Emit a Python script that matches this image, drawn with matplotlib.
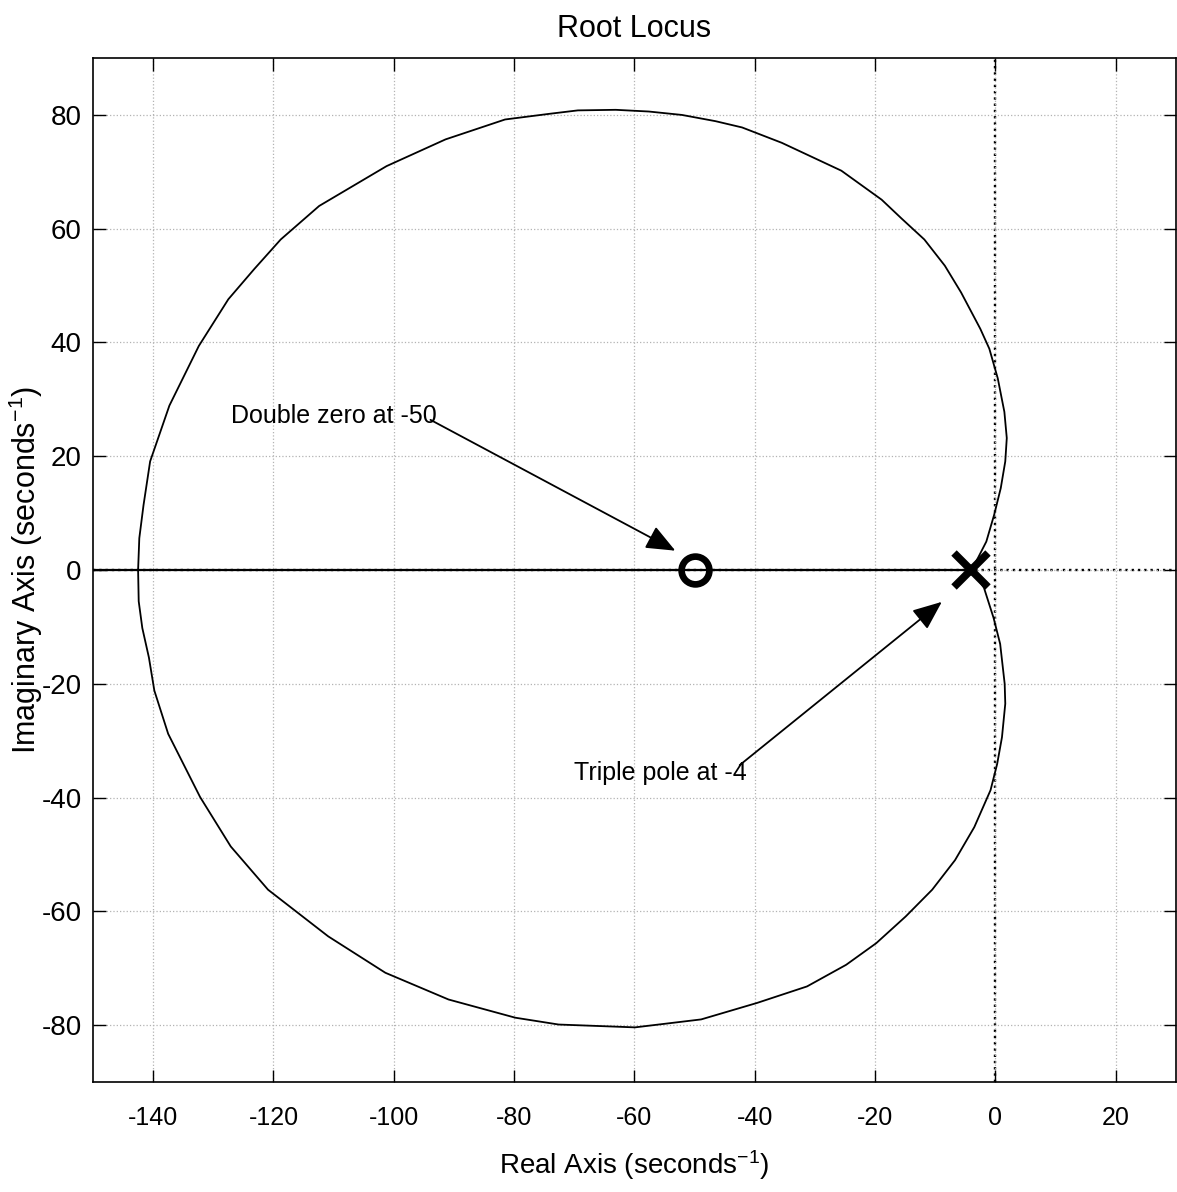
import numpy as np
import matplotlib
matplotlib.use("Agg")
import matplotlib.pyplot as plt

##############################################################################
####################################################################### data #
##############################################################################

# upper complex branch, from triple pole at -4 round to break-in point
upper_re = [-4.0, -2.9, -1.5, -0.2, 0.9, 1.65, 1.9, 1.5, 0.4, -1.0, -2.5,
            -5.7, -8.4, -11.8, -15.6, -18.9, -25.6, -35.5, -42.1, -46.5,
            -52.1, -57.6, -63.1, -69.4, -74.1, -81.5, -91.4, -101.2, -106.8,
            -112.4, -118.8, -123.2, -127.5, -132.4, -137.3, -140.5, -141.6,
            -142.3, -142.5]
upper_im = [0.0, 2.1, 5.0, 9.7, 14.4, 19.1, 23.2, 27.8, 33.7, 38.9, 42.4,
            48.8, 53.5, 58.1, 61.8, 65.1, 70.2, 75.1, 77.8, 78.9,
            80.0, 80.6, 80.9, 80.8, 80.2, 79.2, 75.7, 71.0, 67.5,
            64.0, 58.1, 52.9, 47.6, 39.4, 28.9, 19.1, 11.4,
            5.6, 0.0]

# lower complex branch
lower_re = [-4.0, -1.9, -0.3, 0.8, 1.55, 1.65, 1.1, 0.3, -0.8, -3.5, -6.7,
            -10.5, -14.9, -19.8, -24.8, -31.3, -39.6, -48.9, -59.9, -72.6,
            -79.8, -90.9, -101.4, -110.9, -120.9, -127.1, -132.2, -137.5,
            -139.8, -140.7, -141.8, -142.4, -142.5]
lower_im = [0.0, -3.1, -8.4, -13.0, -20.0, -23.5, -29.4, -34.1, -38.7, -45.2,
            -51.0, -56.2, -60.9, -65.6, -69.4, -73.2, -76.1, -79.0, -80.4,
            -79.9, -78.7, -75.5, -70.8, -64.4, -56.2, -48.6, -39.9, -28.8,
            -21.2, -15.4, -10.2, -5.5, 0.0]

# real axis branches
real_re = [-4.0, -50.0, -142.5, -150.0]
real_im = [0.0, 0.0, 0.0, 0.0]

poles = [-4.0]
zeros = [-50.0]

xticks = [-140, -120, -100, -80, -60, -40, -20, 0, 20]
yticks = [-80, -60, -40, -20, 0, 20, 40, 60, 80]

##############################################################################
############################################################## visualization #
##############################################################################

plt.rcParams['font.family'] = ['Liberation Sans Narrow', 'Liberation Sans', 'DejaVu Sans']
plt.rcParams['mathtext.default'] = 'regular'
plt.rcParams['axes.unicode_minus'] = False

fig = plt.figure(figsize=(11.77, 11.92), dpi=100)
ax = fig.add_axes([0.0790, 0.0923, 0.920, 0.859])

#---------------------------------------------------------------- axis lines
ax.axhline(0, ls=':', color='k', lw=1.7, zorder=1)
ax.axvline(0, ls=':', color='k', lw=1.7, zorder=1)

#--------------------------------------------------------------------- locus
ax.plot(upper_re, upper_im, color='k', lw=1.3, zorder=3)
ax.plot(lower_re, lower_im, color='k', lw=1.3, zorder=3)
ax.plot(real_re, real_im, color='k', lw=1.6, zorder=3)

ax.plot(zeros, [0]*len(zeros), 'o', ms=20, mfc='none', mec='k', mew=4.8, zorder=4)
ax.plot(poles, [0]*len(poles), 'x', ms=24, mec='k', mew=5.5, zorder=4)

#--------------------------------------------------------------- annotations
arrow = dict(arrowstyle='-|>,head_length=0.6,head_width=0.25', color='k',
             lw=1.3, mutation_scale=30, shrinkA=0, shrinkB=0)
ax.annotate('', xy=(-53.2, 3.4), xytext=(-93.9, 26.4), arrowprops=arrow)
ax.annotate('', xy=(-8.9, -5.6), xytext=(-42.5, -34.3), arrowprops=arrow)
ax.text(-127.0, 27, 'Double zero at -50', ha='left', va='center', fontsize=18)
ax.text(-70.0, -35.6, 'Triple pole at -4', ha='left', va='center', fontsize=18)

#--------------------------------------------------------------------- axes
ax.set_xlim(-150, 30)
ax.set_ylim(-90, 90)
ax.set_xticks(xticks)
ax.set_yticks(yticks)
ax.grid(True, ls=':', color='0.7', lw=0.9)
ax.tick_params(direction='in', length=9, width=1, top=True, right=True)
ax.tick_params(axis='x', labelsize=18, pad=17)
ax.tick_params(axis='y', labelsize=20, pad=8)
for s in ax.spines.values():
    s.set_linewidth(1.2)

ax.set_title('Root Locus', fontsize=22, pad=15)
ax.set_xlabel(r'Real Axis (seconds$^{-1}$)', fontsize=20)
ax.set_ylabel(r'Imaginary Axis (seconds$^{-1}$)', fontsize=22)
ax.xaxis.set_label_coords(0.5, -0.081)
ax.yaxis.set_label_coords(-0.062, 0.5)
ax.xaxis.label.set_va('center')
ax.yaxis.label.set_va('center')

plt.savefig('out.png', dpi=100)
